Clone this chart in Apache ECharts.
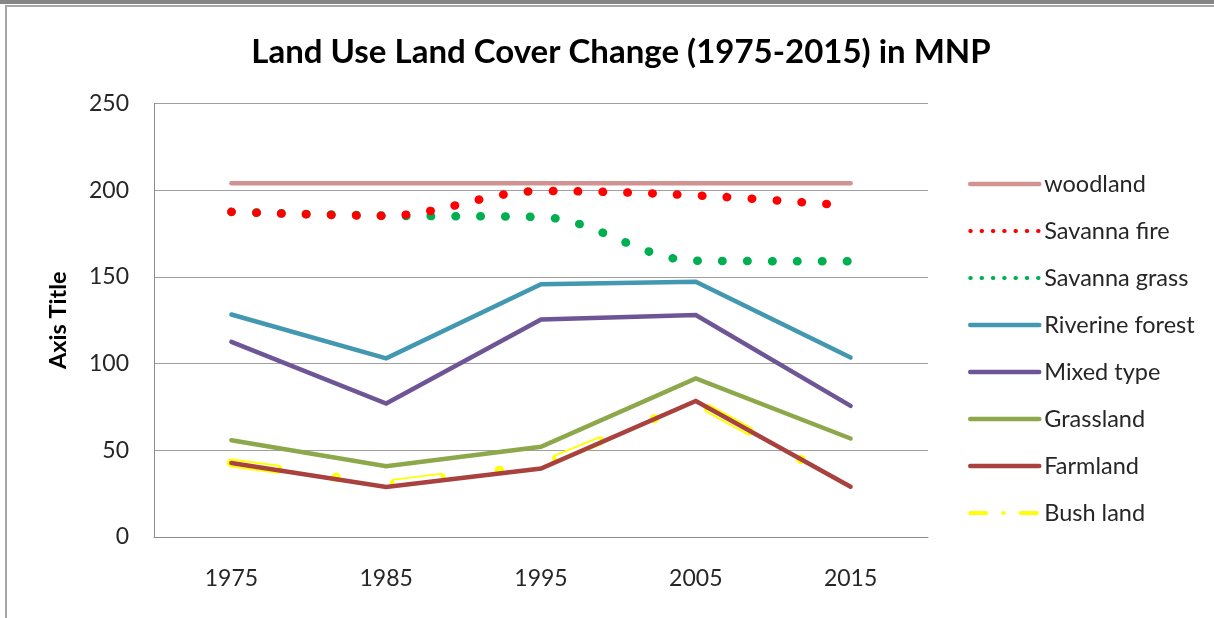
<!DOCTYPE html>
<html>
<head>
<meta charset="utf-8">
<script src="https://cdn.jsdelivr.net/npm/echarts@6/dist/echarts.min.js"></script>
<style>
html, body { margin: 0; padding: 0; background: #fff; }
#frame { position: absolute; left: 0; top: 0; width: 1214px; height: 618px; border-top: 4px solid #858585; box-sizing: border-box; }
#inner { position: absolute; left: 5px; top: 1px; right: 0; bottom: 0; border-top: 2px solid #a6a6a6; border-left: 2px solid #a6a6a6; }
#main { position: absolute; left: 0; top: 0; width: 1214px; height: 618px; }
</style>
</head>
<body>
<div id="frame"><div id="inner"></div></div>
<div id="main"></div>
<script>
var years = ['1975', '1985', '1995', '2005', '2015'];
var woodland = [204, 204, 204, 204, 204];
var savannaFire = [187.5, 185.3, 199.5, 197, 191];
var savannaGrass = [187.5, 185.3, 184.5, 159.3, 159];
var riverineForest = [128.3, 103, 145.8, 147.2, 103.5];
var mixedType = [112.5, 77, 125.4, 128, 75.6];
var grassland = [55.8, 40.8, 52, 91.4, 56.8];
var farmland = [42.7, 28.9, 39.5, 78.4, 29];
var bushLand = [42.7, 30.5, 41.5, 78, 29];

var FONT = 'Lato, "Open Sans", sans-serif';
var BUSH_DASH = [47, 58.5, 0.5, 58.5];

function solidLine(_name, _data, _color) {
    return {
        name: _name,
        type: 'line',
        data: _data,
        symbol: 'none',
        lineStyle: { width: 4.5, color: _color, cap: 'round', join: 'miter' },
        itemStyle: { color: _color }
    };
}
function dotLine(_name, _data, _color) {
    return {
        name: _name,
        type: 'line',
        data: _data,
        symbol: 'none',
        smooth: 0.35,
        lineStyle: { width: 8.5, color: _color, cap: 'round', type: [0.5, 24.4] },
        itemStyle: { color: _color }
    };
}

var myChart = echarts.init(document.getElementById('main'), null, { renderer: 'canvas' });
var option = {
    animation: false,
    title: {
        text: 'Land Use Land Cover Change (1975-2015) in MNP',
        left: 616,
        textAlign: 'center',
        top: 31,
        textStyle: { fontFamily: FONT, fontSize: 33, fontWeight: 'bold', color: '#000' }
    },
    grid: { left: 154, right: 286, top: 103.5, bottom: 81 },
    legend: {
        orient: 'vertical',
        left: 963,
        top: 167,
        itemWidth: 69,
        itemHeight: 14,
        itemGap: 23,
        itemStyle: { opacity: 0 },
        lineStyle: { width: 4.5 },
        textStyle: { fontFamily: FONT, fontSize: 23.5, color: '#262626' },
        data: [
            { name: 'woodland' },
            { name: 'Savanna fire', lineStyle: { width: 4, type: [0.5, 10.8], cap: 'round' } },
            { name: 'Savanna grass', lineStyle: { width: 4, type: [0.5, 10.8], cap: 'round' } },
            { name: 'Riverine forest' },
            { name: 'Mixed type' },
            { name: 'Grassland' },
            { name: 'Farmland' },
            { name: 'Bush land', lineStyle: { width: 4, type: [16, 17, 0.5, 17], cap: 'round' } }
        ]
    },
    xAxis: {
        type: 'category',
        data: years,
        boundaryGap: true,
        axisLine: { lineStyle: { color: '#8c8c8c', width: 1 } },
        axisTick: { show: false },
        axisLabel: { fontFamily: FONT, fontSize: 23, color: '#262626', margin: 30 }
    },
    yAxis: {
        type: 'value',
        min: 0,
        max: 250,
        interval: 50,
        name: 'Axis Title',
        nameLocation: 'middle',
        nameRotate: 90,
        nameGap: 84,
        nameTextStyle: { fontFamily: FONT, fontSize: 23.5, fontWeight: 'bold', color: '#000' },
        axisLine: { show: true, lineStyle: { color: '#8c8c8c', width: 1 } },
        axisTick: { show: false },
        splitLine: { lineStyle: { color: '#a0a0a0', width: 1 } },
        axisLabel: { fontFamily: FONT, fontSize: 23, color: '#262626', margin: 25 }
    },
    series: [
        solidLine('woodland', woodland, '#D09392'),
        dotLine('Savanna grass', savannaGrass, '#00B050'),
        dotLine('Savanna fire', savannaFire, '#FF0000'),
        solidLine('Riverine forest', riverineForest, '#4298B0'),
        solidLine('Mixed type', mixedType, '#6E5596'),
        solidLine('Grassland', grassland, '#8CA84B'),
        {
            name: 'Bush land',
            type: 'line',
            data: bushLand,
            symbol: 'none',
            lineStyle: { width: 9, color: '#FFFF00', cap: 'round', type: BUSH_DASH },
            itemStyle: { color: '#FFFF00' }
        },
        {
            name: 'Bush land inner',
            type: 'line',
            data: bushLand,
            symbol: 'none',
            silent: true,
            lineStyle: { width: 5, color: '#FFFFFF', cap: 'butt', type: BUSH_DASH },
            itemStyle: { color: '#FFFFFF' }
        },
        solidLine('Farmland', farmland, '#A9413E')
    ]
};
myChart.setOption(option);
</script>
</body>
</html>
